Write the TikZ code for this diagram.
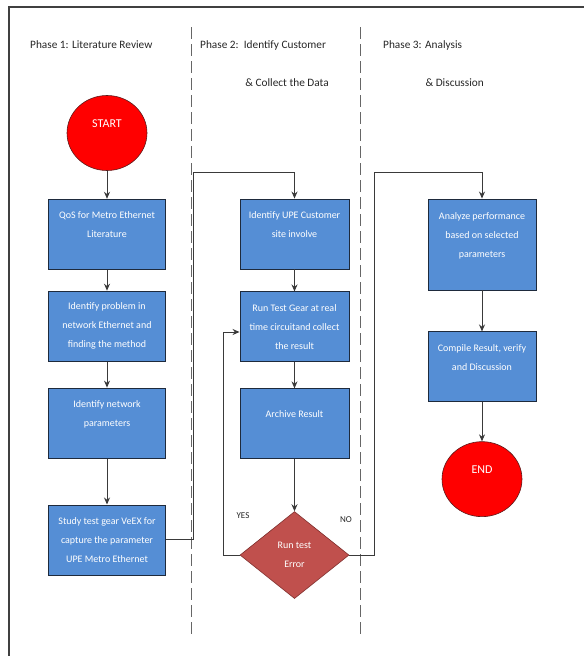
\documentclass[tikz,border=0pt]{standalone}
\usepackage{fontspec}
\setmainfont{Carlito}
\usetikzlibrary{shapes.geometric, arrows.meta, positioning}
\definecolor{boxblue}{HTML}{558ED5}
\definecolor{boxedge}{HTML}{1E2A3C}
\definecolor{termedge}{HTML}{5A1A1A}
\definecolor{decfill}{HTML}{C0504D}
\definecolor{decedge}{HTML}{7F2F2D}
\definecolor{flowgray}{HTML}{3A3A3A}

\begin{document}
\begin{tikzpicture}[x=1pt, y=1pt, font=\fontsize{10}{19}\selectfont, >={Stealth[length=7pt,width=6pt]},
    proc/.style={draw=boxedge, fill=boxblue, text=white, line width=0.9pt, minimum width=109pt, minimum height=70pt, inner sep=0pt, align=center},
    term/.style={draw=termedge, fill=red, text=white, ellipse, line width=0.6pt, minimum width=80pt, minimum height=75pt, inner sep=0pt, align=center, font=\fontsize{12}{19}\selectfont},
    decide/.style={draw=decedge, fill=decfill, text=white, diamond, line width=0.6pt, minimum width=109pt, minimum height=87pt, inner sep=0pt, align=center},
    flow/.style={->, draw=flowgray, line width=1pt},
    lane/.style={draw=black!60, line width=1pt, dash pattern=on 12pt off 5pt},
    head/.style={text=black!85, inner sep=0pt, font=\fontsize{11.3}{13}\selectfont},
    flag/.style={text=black!85, inner sep=0pt, font=\fontsize{9}{11}\selectfont}]
    \useasboundingbox (0,0) rectangle (584,-656);
    \draw[black!75, line width=1.2pt] (9,-656) |- (584,-7);
    \draw[lane] (191,-27) -- (191,-638);
    \draw[lane] (360,-27) -- (360,-638);

    % phase headings
    \node[head, anchor=west] (h1) at (30,-45) {Phase 1: Literature Review};
    \node[head, anchor=west] (h2) at (200,-45) {Phase 2:\ \ Identify Customer};
    \node[head, anchor=east] (h2b) at (329,-83) {\& Collect the Data};
    \node[head, anchor=west] (h3) at (383,-45) {Phase 3: Analysis};
    \node[head, anchor=east] (h3b) at (484,-83) {\& Discussion};

    % phase 1
    \node[term] (start) at (107,-133) {START\\~};
    \node[proc, minimum width=117pt, below=28pt of start] (qos) {QoS for Metro Ethernet\\Literature\\~};
    \node[proc, minimum width=117pt, below=21pt of qos] (problem) {Identify problem in\\network Ethernet and\\finding the method};
    \node[proc, minimum width=117pt, below=26pt of problem] (param) {Identify network\\parameters\\~};
    \node[proc, minimum width=117pt, below=46pt of param] (study) {Study test gear VeEX for\\capture the parameter\\UPE Metro Ethernet};

    % phase 2
    \node[proc] (ident) at (294.5,-234) {Identify UPE Customer\\site involve\\~};
    \node[proc, below=22pt of ident] (run) {Run Test Gear at real\\time circuitand collect\\the result};
    \node[proc, below=26pt of run] (archive) {Archive Result\\~};
    \node[decide, below=52pt of archive] (dia) {Run test\\Error};
    \node[flag] (yes) at (243,-516) {YES};
    \node[flag] (no) at (346,-520) {NO};

    % phase 3
    \node[proc, minimum width=108pt, minimum height=91pt] (analyze) at (482,-244.5) {Analyze performance\\based on selected\\parameters\\~};
    \node[proc, minimum width=108pt, below=41pt of analyze] (compile) {Compile Result, verify\\and Discussion\\~};
    \node[term, below=39pt of compile] (end) {END\\~};

    \coordinate (jA) at (193,-172);
    \coordinate (jB) at (374,-172);
    \coordinate (jC) at (223,-332);

    \draw[flow] (start) -- (qos);
    \draw[flow] (qos) -- (problem);
    \draw[flow] (problem) -- (param);
    \draw[flow] (param) -- (study);
    \draw[flow] (study.east) -| (jA) -| (ident.north);
    \draw[flow] (ident) -- (run);
    \draw[flow] (run) -- (archive);
    \draw[flow] (archive) -- (dia);
    \draw[flow] (dia.west) -| (jC) -- (run.west |- jC);
    \draw[flow] (dia.east) -| (jB) -| (analyze.north);
    \draw[flow] (analyze) -- (compile);
    \draw[flow] (compile) -- (end);
\end{tikzpicture}
\end{document}
